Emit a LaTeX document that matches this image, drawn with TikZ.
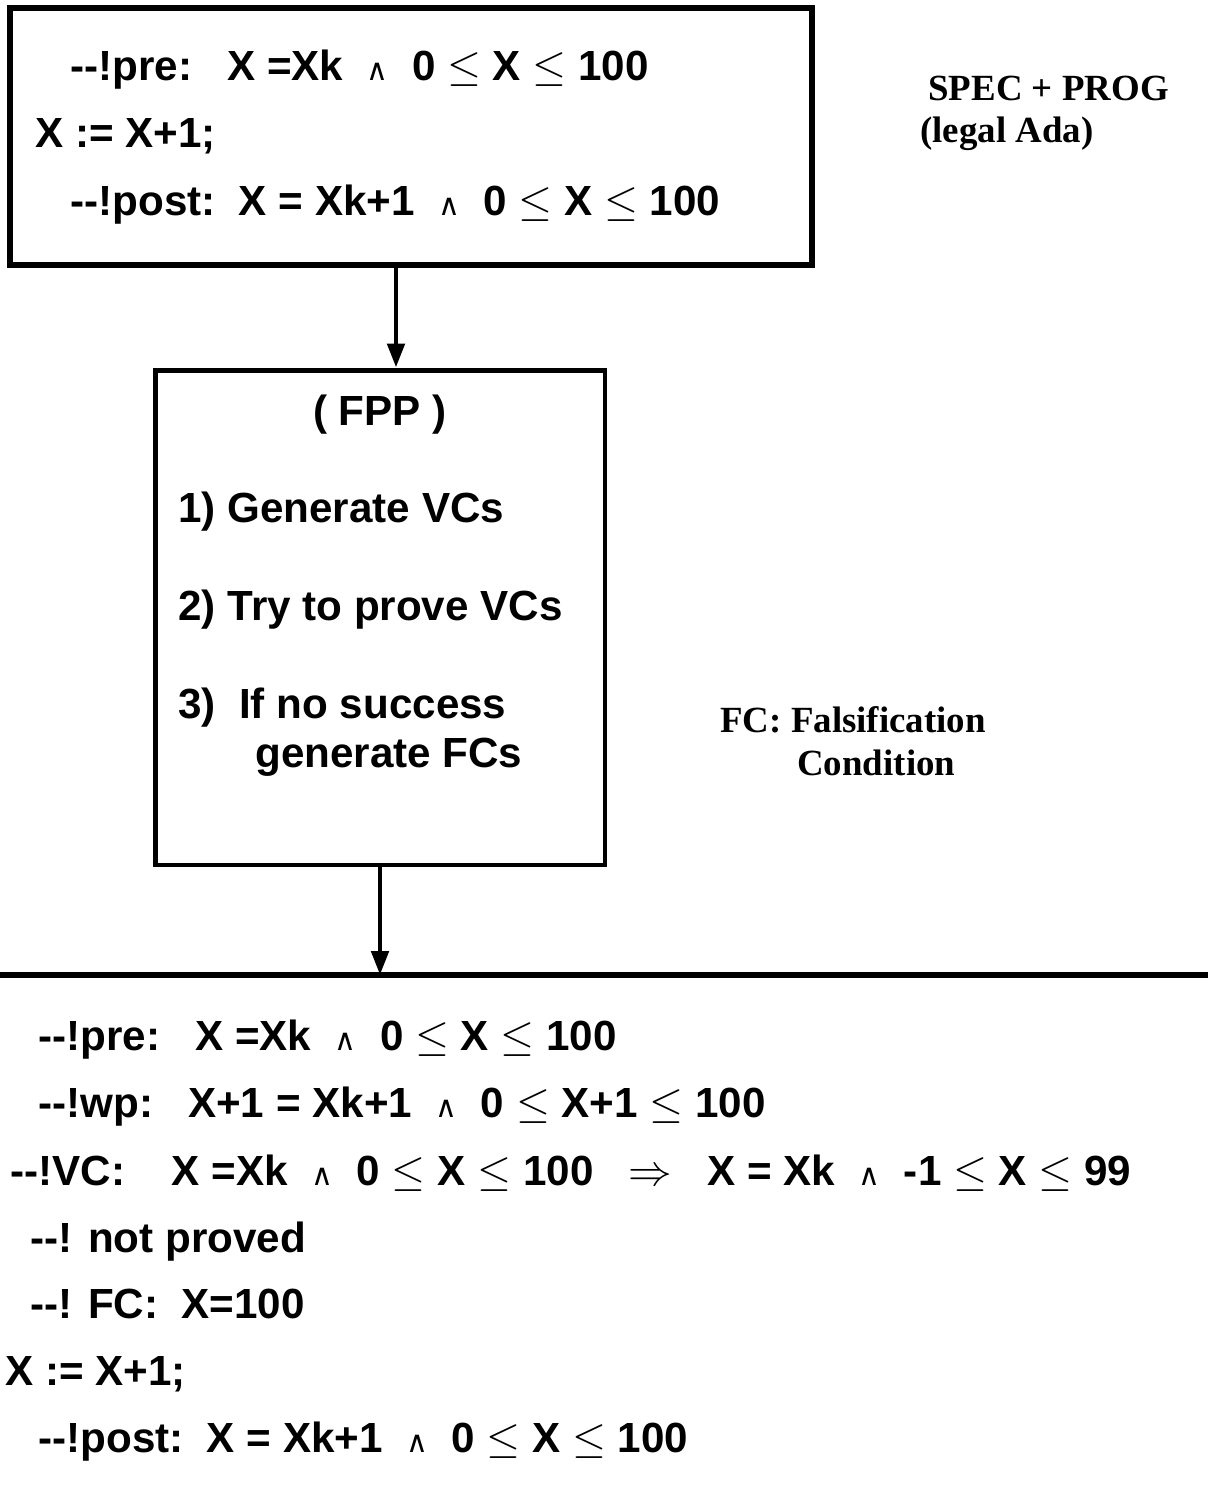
\documentclass[tikz,border=0pt]{standalone}
\usepackage{fontspec}
\setmainfont{Liberation Sans}
\newfontfamily\serifbf{Liberation Serif}
\newfontfamily\symf{DejaVu Sans}
\usetikzlibrary{arrows.meta}

\newcommand{\wdg}{{\symf\mdseries\fontsize{17}{17}\selectfont ∧}}
\newcommand{\leqs}{{\mdseries$\leq$}}
\newcommand{\impl}{{\mdseries$\Rightarrow$}}

\begin{document}
\begin{tikzpicture}[x=0.02cm,y=-0.02cm,
    txt/.style={anchor=base west,inner sep=0pt,font=\fontsize{24}{28}\selectfont\bfseries},
    note/.style={anchor=base west,inner sep=0pt,font=\fontsize{21}{24}\selectfont\serifbf\bfseries},
    frame/.style={draw,line width=3.2pt,inner sep=0pt},
    arr/.style={line width=2.8pt,-{Triangle[length=0.48cm,width=0.34cm]}}]
      \useasboundingbox (0,0) rectangle (1208,1499);

      % SPEC + PROG box
      \node[frame,minimum width=16.04cm,minimum height=5.14cm] (spec) at (411,136.5) {};
      \node[txt] (pre) at (70,80) {-{}-!pre:\ \ \ X =Xk \ \wdg\ \ 0 \leqs{} X \leqs{} 100};
      \node[txt] (assign) at (35,147) {X := X+1;};
      \node[txt] (post) at (70,215) {-{}-!post:\ \ X = Xk+1 \ \wdg\ \ 0 \leqs{} X \leqs{} 100};
      \node[note] (speclbl) at (928,100) {SPEC + PROG};
      \node[note] (adalbl) at (920,142) {(legal Ada)};

      % FPP box
      \node[frame,line width=2.8pt,minimum width=9cm,minimum height=9.9cm] (fpp) at (380,617.5) {};
      \node[txt,anchor=base] (fpptitle) at (380,425) {( FPP )};
      \node[txt] (step1) at (178,522) {1) Generate VCs};
      \node[txt] (step2) at (178,620) {2) Try to prove VCs};
      \node[txt] (step3) at (178,718) {3)\ \ If no success};
      \node[txt] (step3b) at (255,767) {generate FCs};
      \node[note] (fclbl) at (720,732) {FC: Falsification};
      \node[note] (condlbl) at (797,775) {Condition};

      % arrows and rule
      \coordinate (a1) at (396,0);
      \coordinate (rulel) at (0,975);
      \coordinate (ruler) at (1208,975);
      \draw[arr] (spec.south -| a1) -- (fpp.north -| a1);
      \draw[arr] (fpp.south) -- (fpp.south |- rulel);
      \draw[line width=3.2pt] (rulel) -- (ruler);

      % result
      \node[txt] (rpre) at (38,1050) {-{}-!pre:\ \ \ X =Xk \ \wdg\ \ 0 \leqs{} X \leqs{} 100};
      \node[txt] (rwp) at (38,1117) {-{}-!wp:\ \ \ X+1 = Xk+1 \ \wdg\ \ 0 \leqs{} X+1 \leqs{} 100};
      \node[txt] (rvc) at (10,1185) {-{}-!VC:\ \ \ \ X =Xk \ \wdg\ \ 0 \leqs{} X \leqs{} 100\ \ \ \impl\ \ \ X = Xk \ \wdg\ \ -1 \leqs{} X \leqs{} 99};
      \node[txt] (rnot) at (30,1252) {-{}-! not proved};
      \node[txt] (rfc) at (30,1318) {-{}-! FC:\ \ X=100};
      \node[txt] (rassign) at (5,1385) {X := X+1;};
      \node[txt] (rpost) at (38,1452) {-{}-!post:\ \ X = Xk+1 \ \wdg\ \ 0 \leqs{} X \leqs{} 100};
\end{tikzpicture}
\end{document}
